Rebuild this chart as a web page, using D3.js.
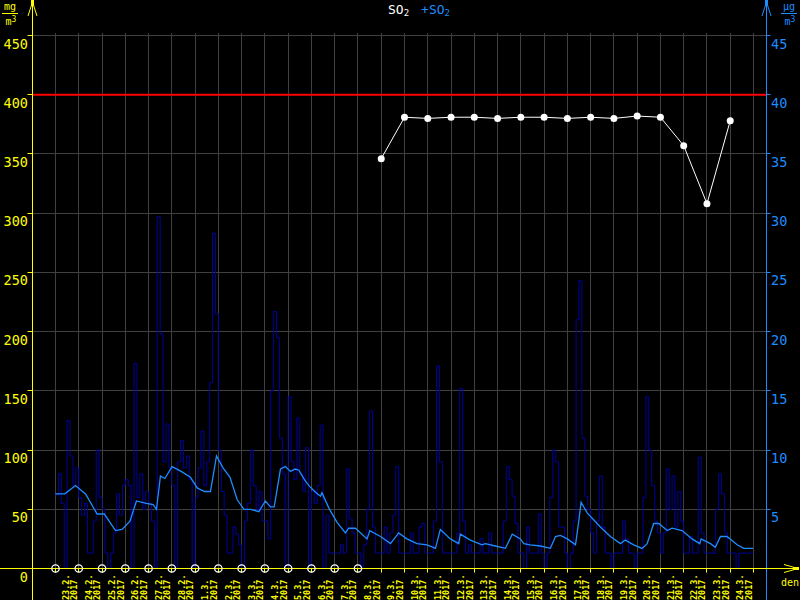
<!DOCTYPE html>
<html><head><meta charset="utf-8">
<script src="https://cdn.jsdelivr.net/npm/d3@7"></script>
<style>html,body{margin:0;padding:0;background:#000;} svg{display:block;background:#000}</style>
</head><body><svg id="c" width="800" height="600"></svg>
<script>
// ---------- DATA ----------
const dayLabels = ["23.2.","24.2.","25.2.","26.2.","27.2.","28.2.","1.3.","2.3.","3.3.","4.3.","5.3.","6.3.","7.3.","8.3.","9.3.","10.3.","11.3.","12.3.","13.3.","14.3.","15.3.","16.3.","17.3.","18.3.","19.3.","20.3.","21.3.","22.3.","23.3.","24.3."];
const yearLabel = "2017";
const leftTicks = [0,50,100,150,200,250,300,350,400,450];
const rightTicks = [5,10,15,20,25,30,35,40,45];
const limitValue = 400;
const stepHours = 3;
// SO2 measured values, one per 3 hours starting 23.2.2017 00:00
const hourlySO2 = [
 62,80,55,0,125,95,70,85,
 60,45,55,13,13,40,100,60,
 50,13,0,13,30,63,45,70,
 75,70,0,173,60,80,50,65,
 55,40,0,297,198,90,122,85,
 70,0,90,108,85,95,75,0,
 60,85,116,70,90,157,283,215,
 100,65,45,13,13,35,29,20,
 0,40,55,100,70,50,65,40,
 40,25,150,217,195,110,80,0,
 145,90,75,127,80,65,102,0,
 65,55,70,121,0,45,13,13,
 13,13,20,13,84,42,30,13,
 13,0,20,50,133,35,13,13,
 13,35,13,30,45,86,13,13,
 13,13,30,13,13,35,38,13,
 13,13,40,171,90,13,13,13,
 13,13,30,152,40,13,20,13,
 13,13,25,13,13,30,13,13,
 13,13,40,86,75,61,38,13,
 13,0,35,13,13,13,46,13,
 0,13,60,100,90,35,35,13,
 0,13,40,210,243,110,61,50,
 30,13,40,78,35,13,13,0,
 13,13,13,40,25,13,13,0,
 13,13,60,145,100,70,40,30,
 13,30,84,50,78,35,65,40,
 13,13,27,13,13,94,30,13,
 13,13,13,50,80,63,30,13,
 13,13,0,13,13,13,13,13
];
// running average: time (days after 23.2.2017 00:00) and value
const avgDays = [0,0.4,0.86,1.29,1.79,2.1,2.58,2.86,3.2,3.48,3.9,4.2,4.34,4.51,4.7,5.01,5.4,5.8,6.09,6.4,6.66,6.92,7.2,7.5,7.81,8.1,8.38,8.74,9.02,9.24,9.4,9.67,9.88,10.1,10.3,10.46,10.7,10.89,11.2,11.39,11.45,11.75,12.1,12.46,12.6,12.89,13.39,13.51,13.97,14.4,14.75,15.1,15.54,15.97,16.33,16.54,16.97,17.33,17.4,17.83,18.33,18.47,18.9,19.34,19.63,19.98,20.13,20.4,20.84,21.27,21.49,21.7,22,22.35,22.49,22.59,22.85,23.42,23.85,24.28,24.49,24.85,25.21,25.43,25.71,25.93,26.29,26.5,26.93,27.36,27.69,27.75,28.15,28.36,28.58,28.86,29.3,29.58,29.98];
const avgSO2 = [63,63,70,63,46,46,32,33,40,57,55,54,50,78,76,86,82,77,68,65,65,95,85,77,58,50,50,48,57,52,52,84,86,82,84,83,75,70,64,61,64,51,39,30,34,34,25,32,27,21,30,25,21,20,17,33,25,21,29,24,20,21,19,17,29,25,21,20,19,17,27,28,25,20,40,56,47,35,27,21,24,20,17,21,38,38,32,34,32,25,21,25,21,18,27,27,20,17,17];
// daily values (white)
const dailyLabels = ["9.3.","10.3.","11.3.","12.3.","13.3.","14.3.","15.3.","16.3.","17.3.","18.3.","19.3.","20.3.","21.3.","22.3.","23.3.","24.3."];
const dailySO2 = [346,381,380,381,381,380,381,381,380,381,380,382,381,357,308,378];
// days marked with circles on the time axis
const markedLabels = ["23.2.","24.2.","25.2.","26.2.","27.2.","28.2.","1.3.","2.3.","3.3.","4.3.","5.3.","6.3.","7.3.","8.3."];

// ---------- SETUP ----------
const svg = d3.select("#c");
const W = 800, H = 600;
const YELLOW = "#ffff00", BLUE = "#1e8cff", DARK = "#0000a0", GRID = "#404040";
const t0 = Date.UTC(2017,1,23);
const DAY = 864e5;
const dayDate = i => new Date(t0 + i*DAY);
const labelIndex = l => dayLabels.indexOf(l);

const x = d3.scaleUtc().domain([dayDate(0), dayDate(30)]).range([55.5, 753.5]);
const yL = d3.scaleLinear().domain([0,450]).range([568.5, 35.5]);
const yR = d3.scaleLinear().domain([0,45]).range([568.5, 35.5]);
const axL = 32.5, axR = 766.5, axY = 568.5;
const px = v => Math.round(v - 0.5) + 0.5;

// grid
const days = d3.utcDay.range(dayDate(0), dayDate(31));
svg.append("g").selectAll("line").data(days).join("line")
  .attr("x1", d => px(x(d))).attr("x2", d => px(x(d)))
  .attr("y1", 33).attr("y2", axY)
  .attr("stroke", GRID).attr("stroke-width", 1);
svg.append("g").selectAll("line").data(leftTicks.filter(v=>v>0)).join("line")
  .attr("x1", axL).attr("x2", axR)
  .attr("y1", d => px(yL(d))).attr("y2", d => px(yL(d)))
  .attr("stroke", GRID).attr("stroke-width", 1);

// hourly series
const hourlyPts = hourlySO2.map((v,i) => [new Date(t0 + i*stepHours*36e5), v]);
hourlyPts.push([dayDate(30), hourlySO2[hourlySO2.length-1]]);
svg.append("path").datum(hourlyPts)
  .attr("d", d3.line().x(d => x(d[0])).y(d => yL(d[1])).curve(d3.curveStepAfter))
  .attr("fill","none").attr("stroke", DARK).attr("stroke-width", 1);

// running average
const avgPts = avgDays.map((dd,i) => [new Date(t0 + dd*DAY), avgSO2[i]]);
svg.append("path").datum(avgPts)
  .attr("d", d3.line().x(d => x(d[0])).y(d => yL(d[1])))
  .attr("fill","none").attr("stroke", BLUE).attr("stroke-width", 1.3);

// limit line
svg.append("line").attr("x1", axL).attr("x2", axR)
  .attr("y1", yL(limitValue)).attr("y2", yL(limitValue))
  .attr("stroke", "#ff0000").attr("stroke-width", 2);

// daily series
const dailyPts = dailyLabels.map((l,i) => [dayDate(labelIndex(l)), dailySO2[i]]);
svg.append("path").datum(dailyPts)
  .attr("d", d3.line().x(d => x(d[0])).y(d => yL(d[1])))
  .attr("fill","none").attr("stroke", "#fff").attr("stroke-width", 1);
svg.append("g").selectAll("circle").data(dailyPts).join("circle")
  .attr("cx", d => x(d[0])).attr("cy", d => yL(d[1])).attr("r", 3.5).attr("fill", "#fff");

// axes lines
svg.append("line").attr("x1", axL).attr("x2", axL).attr("y1", 2).attr("y2", H).attr("stroke", YELLOW);
svg.append("line").attr("x1", axR).attr("x2", axR).attr("y1", 2).attr("y2", H).attr("stroke", BLUE);
svg.append("line").attr("x1", 0).attr("x2", 797).attr("y1", axY).attr("y2", axY).attr("stroke", YELLOW);

// arrows
function upArrow(cx, col){
  svg.append("path").attr("d", `M${cx-4.5},16 L${cx},2 L${cx+4.5},16`).attr("fill","none").attr("stroke",col);
  svg.append("rect").attr("x", cx-1.5).attr("y", 0).attr("width", 3).attr("height", 6).attr("fill", col);
}
upArrow(axL, YELLOW); upArrow(axR, BLUE);
svg.append("path").attr("d", `M784,564.5 L798,${axY} L784,572.5`).attr("fill","none").attr("stroke",YELLOW);
svg.append("rect").attr("x", 793).attr("y", axY-1.5).attr("width", 6).attr("height", 3).attr("fill", YELLOW);

const FONT = "'DejaVu Sans Mono', monospace";
// left ticks & labels
const gl = svg.append("g");
gl.selectAll("line").data(leftTicks).join("line")
  .attr("x1", axL-5).attr("x2", axL).attr("y1", d => px(yL(d))).attr("y2", d => px(yL(d))).attr("stroke", YELLOW);
gl.selectAll("text").data(leftTicks).join("text")
  .attr("x", 28).attr("y", d => yL(d) + 13).attr("text-anchor","end")
  .attr("fill", YELLOW).attr("font-family", FONT).attr("font-size", 13.5).text(d => d);
// right ticks & labels
const gr = svg.append("g");
gr.selectAll("line").data(rightTicks).join("line")
  .attr("x1", axR).attr("x2", axR+4).attr("y1", d => px(yR(d))).attr("y2", d => px(yR(d))).attr("stroke", BLUE);
gr.selectAll("text").data(rightTicks).join("text")
  .attr("x", 771).attr("y", d => yR(d) + 13).attr("text-anchor","start")
  .attr("fill", BLUE).attr("font-family", FONT).attr("font-size", 13.5).text(d => d);

// x ticks
svg.append("g").selectAll("line").data(days).join("line")
  .attr("x1", d => px(x(d))).attr("x2", d => px(x(d))).attr("y1", axY).attr("y2", axY+4).attr("stroke", YELLOW);
// x labels (two rotated lines per day, starting at the bottom edge)
const xl = svg.append("g");
dayLabels.forEach((l,i) => {
  const cx = x(new Date(t0 + (i+0.5)*DAY));
  xl.append("text").attr("transform", `translate(${cx+1.5},600) rotate(-90)`)
    .attr("text-anchor","start").attr("fill", YELLOW).attr("font-family", FONT)
    .attr("font-size", 8.5).attr("font-weight","bold").text(l);
  xl.append("text").attr("transform", `translate(${cx+10},600) rotate(-90)`)
    .attr("text-anchor","start").attr("fill", YELLOW).attr("font-family", FONT)
    .attr("font-size", 8.5).attr("font-weight","bold").text(yearLabel);
});
// marked days circles
svg.append("g").selectAll("circle").data(markedLabels).join("circle")
  .attr("cx", l => x(dayDate(labelIndex(l)))).attr("cy", axY).attr("r", 3.7)
  .attr("fill","none").attr("stroke","#fff").attr("stroke-width",1.3);

// unit labels
function unit(cx, top, col){
  svg.append("text").attr("x", cx).attr("y", 9.5).attr("text-anchor","middle").attr("fill", col)
    .attr("font-family", FONT).attr("font-size", 10).text(top);
  svg.append("line").attr("x1", cx-8).attr("x2", cx+8).attr("y1", 13.5).attr("y2", 13.5).attr("stroke", col);
  const t = svg.append("text").attr("x", cx+1).attr("y", 25).attr("text-anchor","middle").attr("fill", col)
    .attr("font-family", FONT).attr("font-size", 10);
  t.append("tspan").text("m");
  t.append("tspan").attr("dy", -3).attr("font-size", 8).text("3");
}
unit(10, "mg", YELLOW);
unit(789, "µg", BLUE);
svg.append("text").attr("x", 790).attr("y", 586).attr("text-anchor","middle").attr("fill", YELLOW)
  .attr("font-family", FONT).attr("font-size", 10).text("den");

// title
const title = svg.append("text").attr("x", 388).attr("y", 14).attr("font-family", FONT).attr("font-size", 13);
title.append("tspan").attr("fill","#fff").text("SO");
title.append("tspan").attr("fill","#fff").attr("font-size", 9).attr("dy", 2).text("2");
title.append("tspan").attr("fill", BLUE).attr("dy", -2).attr("dx", 12).text("+SO");
title.append("tspan").attr("fill", BLUE).attr("font-size", 9).attr("dy", 2).text("2");
</script></body></html>
